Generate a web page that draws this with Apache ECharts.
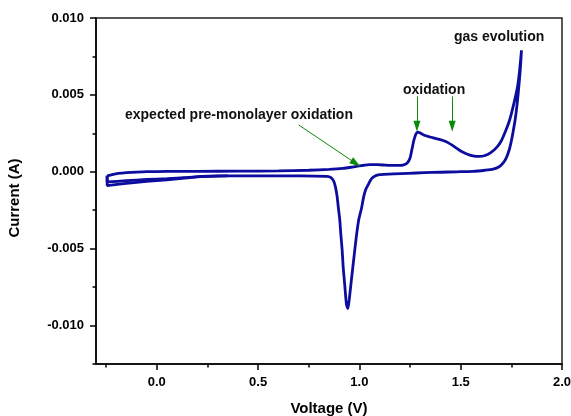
<!DOCTYPE html>
<html><head><meta charset="utf-8">
<script src="https://cdn.jsdelivr.net/npm/echarts@6/dist/echarts.min.js"></script>
<style>html,body{margin:0;padding:0;background:#fff}#c{width:571px;height:416px}</style>
</head><body><div id="c"></div>
<script>
// Tick values
const xMajorTicks = [0, 0.5, 1.0, 1.5, 2.0];
const xMinorTicks = [-0.25, 0.25, 0.75, 1.25, 1.75];
const yMajorTicks = [-0.010, -0.005, 0, 0.005, 0.010];
const yMinorTicks = [-0.0125, -0.0075, -0.0025, 0.0025, 0.0075];

// Anodic (forward) scan, [V, A]
const forwardScan = [
  [-0.245,-0.00026],[-0.22,-0.00018],[-0.19,-0.00011],[-0.15,-0.00006],[-0.1,-0.00002],
  [-0.05,0.00001],[0.05,0.00002],[0.2,0.00003],[0.4,0.00004],[0.6,0.00006],[0.75,0.0001],
  [0.85,0.00015],[0.92,0.00022],[0.97,0.00032],[1.01,0.0004],[1.05,0.00046],[1.09,0.00046],
  [1.13,0.00043],[1.18,0.00041],[1.215,0.00043],[1.235,0.00055],[1.25,0.0009],[1.26,0.0015],
  [1.27,0.0021],[1.28,0.00248],[1.29,0.00258],[1.30,0.00252],[1.32,0.00238],[1.35,0.00226],
  [1.38,0.00215],[1.41,0.00205],[1.44,0.00188],[1.47,0.00162],[1.50,0.00135],[1.53,0.00116],
  [1.56,0.00104],[1.59,0.001],[1.62,0.00106],[1.65,0.00126],[1.68,0.00162],[1.70,0.002],
  [1.72,0.0026],[1.74,0.0033],[1.76,0.0043],[1.78,0.0055],[1.79,0.0065],[1.80,0.0079]
];
// Cathodic (reverse) scan, [V, A]
const reverseScan = [
  [1.80,0.0079],[1.795,0.0068],[1.788,0.0057],[1.78,0.0046],[1.77,0.0035],[1.76,0.0027],
  [1.75,0.002],[1.74,0.00145],[1.725,0.0009],[1.71,0.00058],[1.69,0.00033],[1.66,0.00017],
  [1.62,0.0001],[1.56,0.00003],[1.48,0.0],[1.40,-0.00003],[1.32,-0.00006],[1.24,-0.0001],
  [1.17,-0.00014],[1.12,-0.00017],[1.10,-0.00019],[1.08,-0.00026],[1.06,-0.00045],
  [1.045,-0.0008],[1.03,-0.0012],[1.02,-0.0017],[1.01,-0.0024],[0.997,-0.0031],[0.985,-0.0042],
  [0.972,-0.0057],[0.96,-0.0071],[0.95,-0.0083],[0.943,-0.0089],[0.936,-0.0086],[0.928,-0.0074],
  [0.92,-0.0062],[0.915,-0.0051],[0.908,-0.004],[0.903,-0.0031],[0.895,-0.0022],[0.89,-0.0016],
  [0.882,-0.001],[0.873,-0.0006],[0.86,-0.00038],[0.84,-0.0003],[0.7,-0.00027],[0.5,-0.00026],
  [0.3,-0.00027],[0.22,-0.0003],[0.15,-0.00037],[0.05,-0.00045],[-0.05,-0.0005],
  [-0.15,-0.00058],[-0.245,-0.00066],[-0.245,-0.00026]
];
// Second cycle, low-potential end of the reverse scan
const reverseScan2 = [
  [0.35,-0.00027],[0.22,-0.00032],[0.15,-0.0004],[0.05,-0.00052],[-0.05,-0.00062],
  [-0.15,-0.00075],[-0.245,-0.0009],[-0.245,-0.00026]
];

const FONT = 'Liberation Sans, Arial, Helvetica, sans-serif';
const LINE = '#0c0c9e';
const GREEN = '#0a8a0a';

const chart = echarts.init(document.getElementById('c'), null, {renderer: 'canvas'});
const tickLabel = {show: true, fontFamily: FONT, fontWeight: 'bold', fontSize: 13, color: '#000'};

chart.setOption({
  animation: false,
  backgroundColor: '#fff',
  grid: {left: 96, right: 9, top: 18, bottom: 52, outerBoundsMode: 'none', containLabel: false,
         show: true, borderColor: '#222', borderWidth: 1.5},
  xAxis: [
    {type: 'value', min: -0.3, max: 2.0, position: 'bottom',
     axisLine: {show: true, onZero: false, lineStyle: {color: '#000', width: 1.5}},
     axisTick: {show: true, inside: false, length: 6, customValues: xMajorTicks, lineStyle: {color: '#000', width: 1.5}},
     axisLabel: Object.assign({margin: 12, customValues: xMajorTicks, formatter: v => v.toFixed(1)}, tickLabel),
     splitLine: {show: false},
     name: 'Voltage (V)', nameLocation: 'middle', nameGap: 37,
     nameTextStyle: {fontFamily: FONT, fontWeight: 'bold', fontSize: 15, color: '#000'}},
    {type: 'value', min: -0.3, max: 2.0, position: 'bottom',
     axisLine: {show: false, onZero: false}, axisLabel: {show: false}, splitLine: {show: false},
     axisTick: {show: true, inside: false, length: 3.5, customValues: xMinorTicks, lineStyle: {color: '#000', width: 1.5}}}
  ],
  yAxis: [
    {type: 'value', min: -0.0125, max: 0.010, position: 'left',
     axisLine: {show: true, onZero: false, lineStyle: {color: '#000', width: 1.5}},
     axisTick: {show: true, inside: false, length: 6, customValues: yMajorTicks, lineStyle: {color: '#000', width: 1.5}},
     axisLabel: Object.assign({margin: 12, customValues: yMajorTicks, formatter: v => v.toFixed(3)}, tickLabel),
     splitLine: {show: false}},
    {type: 'value', min: -0.0125, max: 0.010, position: 'left', offset: 0,
     axisLine: {show: false, onZero: false}, axisLabel: {show: false}, splitLine: {show: false},
     axisTick: {show: true, inside: false, length: 3.5, customValues: yMinorTicks, lineStyle: {color: '#000', width: 1.5}}}
  ],
  series: [
    {type: 'line', xAxisIndex: 0, yAxisIndex: 0, data: forwardScan.concat(reverseScan),
     showSymbol: false, smooth: 0.2, lineStyle: {color: LINE, width: 2.8}, z: 3,
     markLine: {
       silent: true, animation: false, symbol: ['none', 'triangle'], symbolSize: [7, 11],
       lineStyle: {color: GREEN, width: 1, type: 'solid'}, label: {show: false},
       emphasis: {disabled: true},
       data: [
         [{coord: [0.70, 0.00305]}, {coord: [0.982, 0.00055]}],
         [{coord: [1.284, 0.0049]}, {coord: [1.284, 0.00296]}],
         [{coord: [1.458, 0.0049]}, {coord: [1.458, 0.00296]}]
       ]
     }},
    {type: 'line', xAxisIndex: 0, yAxisIndex: 0, data: reverseScan2,
     showSymbol: false, smooth: 0.2, lineStyle: {color: LINE, width: 2.8}, z: 3}
  ],
  graphic: [
    {type: 'text', x: 15, y: 198, rotation: Math.PI / 2,
     style: {text: 'Current (A)', font: 'bold 15px ' + FONT, fill: '#000', align: 'center', verticalAlign: 'middle'}},
    {type: 'text', x: 125, y: 115.5,
     style: {text: 'expected pre-monolayer oxidation', font: 'bold 14px ' + FONT, fill: '#111', align: 'left', verticalAlign: 'middle'}},
    {type: 'text', x: 403, y: 90,
     style: {text: 'oxidation', font: 'bold 14px ' + FONT, fill: '#111', align: 'left', verticalAlign: 'middle'}},
    {type: 'text', x: 454, y: 37,
     style: {text: 'gas evolution', font: 'bold 14px ' + FONT, fill: '#111', align: 'left', verticalAlign: 'middle'}}
  ]
});
</script>
</body></html>
